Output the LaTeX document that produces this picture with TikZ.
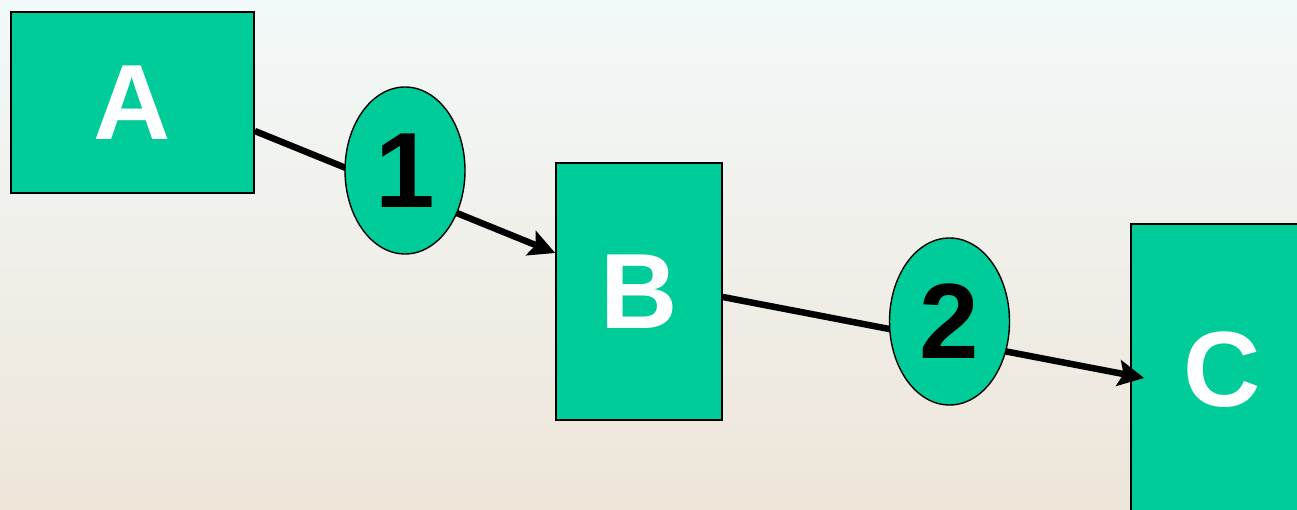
\documentclass[tikz,border=0pt]{standalone}
\usepackage{fontspec}
\setmainfont{Liberation Sans}
\usetikzlibrary{arrows.meta,shapes.geometric}
\definecolor{boxgreen}{RGB}{0,204,153}
\definecolor{bgtop}{RGB}{242,249,249}
\definecolor{bgmid}{RGB}{244,245,237}
\definecolor{bgbot}{RGB}{238,229,217}
\tikzset{
  stagebox/.style={draw=black, line width=1.6pt, fill=boxgreen, text=white,
    font=\fontsize{107}{107}\selectfont\bfseries, inner sep=0pt, anchor=center},
  stepoval/.style={ellipse, draw=black, line width=1.4pt, fill=boxgreen, text=black,
    font=\fontsize{107}{107}\selectfont\bfseries, inner sep=0pt,
    minimum width=120pt, minimum height=167pt},
  flow/.style={line width=6.5pt, -{Stealth[length=26pt,width=26pt,inset=5pt]}}
}
\begin{document}
\begin{tikzpicture}[x=1pt,y=-1pt]
  \useasboundingbox (0,0) rectangle (1297,510);
  \clip (0,0) rectangle (1297,510);
  % soft page background
  \shade[top color=bgtop, middle color=bgmid, bottom color=bgbot] (0,0) rectangle (1297,510);

  % stages
  \node[stagebox, minimum width=243pt, minimum height=181pt] (A) at (132.5,102.5) {A};
  \node[stagebox, minimum width=166pt, minimum height=257pt] (B) at (639,291.5) {B};
  \node[stagebox, minimum width=182pt, minimum height=292pt] (C) at (1222,370) {C};

  % transitions
  \coordinate (cin) at ([xshift=14pt,yshift=-8pt]C.west);
  \draw[flow] ([yshift=-28.5pt]A.east) -- ([yshift=38.5pt]B.west);
  \draw[flow] ([yshift=-5.5pt]B.east) -- (cin);

  % step markers on the transitions
  \node[stepoval] (s1) at (405,170.5) {1};
  \node[stepoval] (s2) at (949.5,321.5) {2};
\end{tikzpicture}
\end{document}
